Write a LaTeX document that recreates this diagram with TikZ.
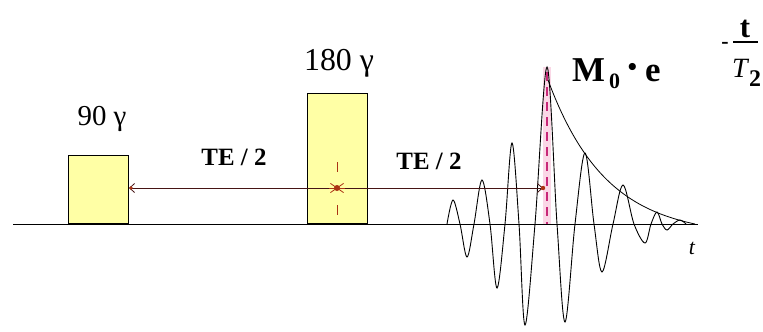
\documentclass[tikz,border=0pt]{standalone}
\usepackage{fontspec}
\setmainfont{Liberation Serif}
\usetikzlibrary{arrows.meta}
\definecolor{boxyellow}{RGB}{255,255,165}
\definecolor{starred}{RGB}{170,50,20}
\definecolor{echopink}{RGB}{200,40,120}
\definecolor{bandpink}{RGB}{250,215,230}
\definecolor{arrowdark}{RGB}{70,20,20}
\begin{document}
\begin{tikzpicture}[x=1bp,y=-1bp,
  pulse/.style={draw=black, line width=1bp, fill=boxyellow, inner sep=0, anchor=south west},
  lbl/.style={font=\fontsize{29}{29}\selectfont, inner sep=0},
  telbl/.style={font=\fontsize{25}{25}\selectfont\bfseries, inner sep=0},
  fbig/.style={font=\fontsize{35}{35}\selectfont\bfseries, inner sep=0, anchor=base west},
  fsmall/.style={font=\fontsize{22}{22}\selectfont\bfseries, inner sep=0, anchor=base west},
  spanarrow/.style={arrowdark, line width=0.8bp, -{Straight Barb[length=5bp,width=9bp]}},
  thin/.style={line width=0.9bp}
]
\useasboundingbox (0,0) rectangle (763,331);
% axis
\coordinate (axl) at (13,224);
\coordinate (axr) at (698,224);
\draw[line width=1bp] (axl) -- (axr);
\node[font=\fontsize{22}{22}\selectfont\itshape, inner sep=0] (tlab) at (692,248) {t};
% pulses
\node[pulse, minimum width=60bp, minimum height=68bp] (p90) at (68,224) {};
\node[pulse, minimum width=60bp, minimum height=130bp] (p180) at (307,224) {};
\node[lbl] (l90) at (102,119) {90 γ};
\node[lbl, font=\fontsize{32}{32}\selectfont] (l180) at (339,63) {180 γ};
\node[telbl] (te1) at (234,157) {TE / 2};
\node[telbl] (te2) at (429,161) {TE / 2};
% echo pink band
\coordinate (ptop) at (547,67);
\fill[bandpink] (543,67) rectangle (551,224);
\draw[echopink, line width=2.5bp, dash pattern=on 9bp off 6bp] (547,72) -- (547,224);
% wave
\draw[thin] plot[smooth, tension=0.55] coordinates {
 (447,224) (453,200) (460,224) (467,257) (474,224) (482,180) (490,224)
 (497,288) (505,224) (512,143) (519,224) (525,325) (535,224) (547,67)
 (557,224) (565,322) (575,224) (585,153) (594,224) (602,272) (613,224)
 (623,185) (634,224) (645,243) (651,224) (657,212) (662,224) (667,230)
 (673,224) (680,220) (686,224)};
% envelope
\draw[line width=0.8bp] plot[domain=548:695, samples=80] (\x, {224-144*(exp(-(\x-548)/58)-0.0793)/0.9207});
% spacing arrows
\coordinate (star) at (337,188);
\coordinate (echoarr) at (543,188);
\draw[spanarrow] (star) -- (p90.east |- star);
\draw[spanarrow] (star) -- (echoarr);
\fill[starred] (echoarr) circle (2.2bp);
\fill[starred] ([xshift=2bp]p90.east |- star) circle (1.8bp);
% star marker and dashed centre line of 180 pulse
\draw[starred, line width=1bp, dash pattern=on 10bp off 33bp] (337,162) -- (337,216);
\foreach \a in {0,35,145,180,215,325} \draw[starred, line width=0.8bp] (star) -- ++(\a:8bp);
\fill[starred] (star) circle (3bp);
% formula
\node[fbig] (fM) at (572,81) {M};
\node[fsmall] (f0) at (609,88) {0};
\node[font=\fontsize{44}{44}\selectfont\bfseries, inner sep=0] (fdot) at (633,72) {·};
\node[fbig] (fe) at (645,81) {e};
\node[font=\fontsize{22}{22}\selectfont\bfseries, inner sep=0] (fminus) at (725,45) {-};
\coordinate (barl) at (733,42);
\coordinate (barr) at (758,42);
\draw[line width=1.4bp] (barl) -- (barr);
\node[font=\fontsize{31}{31}\selectfont\bfseries, inner sep=0, anchor=base] (ft) at (745,37) {t};
\node[font=\fontsize{28}{28}\selectfont\itshape, inner sep=0, anchor=base west] (fT) at (732,77) {T};
\node[fsmall, font=\fontsize{24}{24}\selectfont\bfseries] (f2) at (749,86) {2};
\end{tikzpicture}
\end{document}
